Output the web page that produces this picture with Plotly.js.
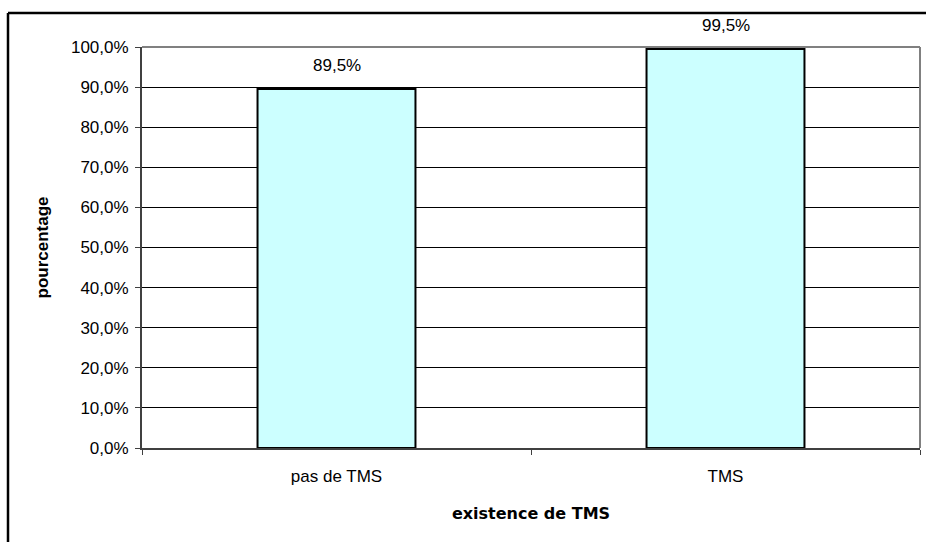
<!DOCTYPE html>
<html>
<head>
<meta charset="utf-8">
<script src="https://cdn.plot.ly/plotly-3.0.1.min.js"></script>
<style>html,body{margin:0;padding:0;background:#fff;}#chart{width:926px;height:542px;}</style>
</head>
<body>
<div id="chart"></div>
<script>
const categories = ["pas de TMS", "TMS"];
const values = [89.5, 99.5];
const yTickValues = [0, 10, 20, 30, 40, 50, 60, 70, 80, 90, 100];
const xTitle = "existence de TMS";
const yTitle = "pourcentage";

const fmt = v => v.toFixed(1).replace('.', ',') + '%';

const W = 926, H = 542;
const m = {l: 142, r: 6, t: 47, b: 94};
const pw = W - m.l - m.r, ph = H - m.t - m.b;
const px = x => (x - m.l) / pw;
const py = y => (H - m.b - y) / ph;

const trace = {
  type: 'bar',
  x: categories,
  y: values,
  marker: {color: '#CCFFFF', line: {color: '#000000', width: 2}},
  hoverinfo: 'skip'
};

const annotations = categories.map((c, i) => ({
  x: c, y: values[i], xref: 'x', yref: 'y',
  text: fmt(values[i]), showarrow: false,
  yanchor: 'bottom', yshift: 12,
  font: {family: 'Liberation Sans, Arial, sans-serif', size: 17, color: '#000'}
}));

const layout = {
  width: W, height: H,
  margin: m,
  paper_bgcolor: '#ffffff',
  plot_bgcolor: '#ffffff',
  separators: ',.',
  bargap: 0.594,
  showlegend: false,
  font: {family: 'Liberation Sans, Arial, sans-serif', size: 17, color: '#000'},
  xaxis: {
    type: 'category',
    tickson: 'boundaries',
    ticks: 'outside', ticklen: 5, tickcolor: '#404040', tickwidth: 1,
    ticklabelstandoff: 12,
    showline: true, linecolor: '#404040', linewidth: 2,
    showgrid: false, zeroline: false,
    tickfont: {size: 17, family: 'Liberation Sans, Arial, sans-serif'},
    title: {text: xTitle, standoff: 22,
      font: {family: 'DejaVu Sans, sans-serif', size: 16, weight: 'bold', color: '#000'}}
  },
  yaxis: {
    range: [0, 100],
    tickvals: yTickValues,
    ticktext: yTickValues.map(v => fmt(v)),
    ticks: 'outside', ticklen: 5, tickcolor: '#404040', tickwidth: 1,
    ticklabelstandoff: 3,
    showline: true, linecolor: '#404040', linewidth: 2,
    showgrid: true, gridcolor: '#000000', gridwidth: 1,
    zeroline: false,
    tickfont: {size: 17, family: 'Liberation Sans, Arial, sans-serif'},
    title: {text: yTitle, standoff: 18,
      font: {family: 'Liberation Sans, Arial, sans-serif', size: 17, weight: 'bold', color: '#000'}}
  },
  annotations: annotations,
  shapes: [
    {type: 'line', xref: 'paper', yref: 'paper', x0: 0, x1: 1, y0: 1, y1: 1,
      line: {color: '#808080', width: 2}},
    {type: 'line', xref: 'paper', yref: 'paper', x0: 1, x1: 1, y0: 0, y1: 1,
      line: {color: '#808080', width: 2}},
    {type: 'line', xref: 'paper', yref: 'paper', x0: px(8), x1: px(8), y0: py(13), y1: py(H + 5),
      line: {color: '#000000', width: 2.5}},
    {type: 'line', xref: 'paper', yref: 'paper', x0: px(8), x1: px(W + 5), y0: py(13), y1: py(13),
      line: {color: '#000000', width: 2.5}}
  ]
};

Plotly.newPlot('chart', [trace], layout, {displayModeBar: false, staticPlot: true});
</script>
</body>
</html>
